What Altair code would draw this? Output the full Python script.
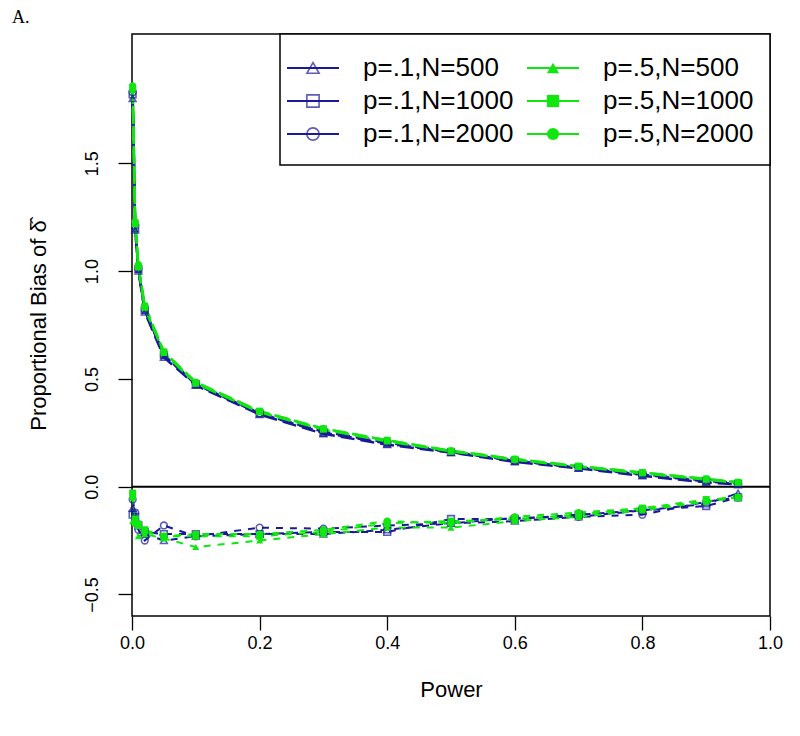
import altair as alt
import pandas as pd

# ---------------- data ----------------
power = [0.001, 0.005, 0.01, 0.02, 0.05, 0.1, 0.2, 0.3, 0.4, 0.5, 0.6, 0.7, 0.8, 0.9, 0.95]

series_labels = ["p=.1,N=500", "p=.1,N=1000", "p=.1,N=2000",
                 "p=.5,N=500", "p=.5,N=1000", "p=.5,N=2000"]

# upper set of curves (long-dashed)
upper_p1_n500 = [1.80, 1.19, 1.00, 0.81, 0.60, 0.470, 0.335, 0.245, 0.195, 0.158, 0.115, 0.085, 0.050, 0.020, 0.010]
upper_p1_n1000 = [1.82, 1.20, 1.01, 0.82, 0.61, 0.475, 0.340, 0.250, 0.200, 0.160, 0.120, 0.088, 0.055, 0.025, 0.012]
upper_p1_n2000 = [1.83, 1.21, 1.01, 0.82, 0.61, 0.475, 0.340, 0.255, 0.205, 0.162, 0.120, 0.090, 0.058, 0.028, 0.015]
upper_p5_n500 = [1.84, 1.22, 1.02, 0.83, 0.62, 0.480, 0.345, 0.265, 0.210, 0.165, 0.125, 0.093, 0.062, 0.033, 0.018]
upper_p5_n1000 = [1.85, 1.22, 1.02, 0.835, 0.625, 0.480, 0.350, 0.268, 0.215, 0.165, 0.127, 0.095, 0.065, 0.035, 0.020]
upper_p5_n2000 = [1.86, 1.23, 1.03, 0.84, 0.625, 0.485, 0.350, 0.270, 0.215, 0.167, 0.128, 0.095, 0.066, 0.036, 0.020]

# lower set of curves (short-dashed)
lower_p1_n500 = [-0.10, -0.15, -0.17, -0.22, -0.25, -0.23, -0.22, -0.22, -0.20, -0.17, -0.16, -0.14, -0.11, -0.08, -0.03]
lower_p1_n1000 = [-0.13, -0.14, -0.18, -0.21, -0.22, -0.22, -0.22, -0.21, -0.21, -0.15, -0.15, -0.13, -0.11, -0.09, -0.05]
lower_p1_n2000 = [-0.06, -0.12, -0.20, -0.25, -0.18, -0.23, -0.19, -0.195, -0.18, -0.17, -0.145, -0.14, -0.13, -0.07, -0.05]
lower_p5_n500 = [-0.16, -0.17, -0.23, -0.22, -0.24, -0.28, -0.25, -0.22, -0.19, -0.19, -0.16, -0.14, -0.11, -0.07, -0.04]
lower_p5_n1000 = [-0.03, -0.15, -0.18, -0.20, -0.23, -0.23, -0.23, -0.21, -0.17, -0.16, -0.15, -0.13, -0.10, -0.06, -0.05]
lower_p5_n2000 = [-0.05, -0.17, -0.17, -0.21, -0.23, -0.22, -0.22, -0.20, -0.16, -0.17, -0.14, -0.12, -0.10, -0.07, -0.05]

x_ticks = [0.0, 0.2, 0.4, 0.6, 0.8, 1.0]
y_ticks = [-0.5, 0.0, 0.5, 1.0, 1.5]
zero_line = [0.0]

# ---------------- build tables ----------------
upper = [upper_p1_n500, upper_p1_n1000, upper_p1_n2000, upper_p5_n500, upper_p5_n1000, upper_p5_n2000]
lower = [lower_p1_n500, lower_p1_n1000, lower_p1_n2000, lower_p5_n500, lower_p5_n1000, lower_p5_n2000]

rows = []
for order, (lab, uv, lv) in enumerate(zip(series_labels, upper, lower)):
    for p, u, l in zip(power, uv, lv):
        rows.append({"power": p, "bias": u, "series": lab, "set": "upper", "ord": order})
        rows.append({"power": p, "bias": l, "series": lab, "set": "lower", "ord": order})
df = pd.DataFrame(rows)

BLUE = "#1A1A99"
GREEN = "#11E611"
color_scale = alt.Scale(domain=series_labels, range=[BLUE] * 3 + [GREEN] * 3)
shape_scale = alt.Scale(domain=series_labels,
                        range=["triangle-up", "square", "circle"] * 2)

FONT = "Liberation Sans"

xs = alt.X("power:Q", scale=alt.Scale(domain=[0, 1], nice=False, zero=False),
           axis=alt.Axis(values=x_ticks, format=".1f", title="Power",
                         labelFlush=False, titlePadding=27, labelPadding=4))
ys = alt.Y("bias:Q", scale=alt.Scale(domain=[-0.6, 2.1], nice=False, zero=False),
           axis=alt.Axis(values=y_ticks, format=".1f", title="Proportional Bias of \u03b4\u0302",
                         labelFlush=False,
                         labelAngle=270, labelAlign="center", labelBaseline="bottom",
                         labelPadding=17, titlePadding=33))

base = alt.Chart(df)

upper_lines = base.transform_filter(alt.datum.set == "upper").mark_line(
    strokeWidth=2.5, strokeDash=[14, 6]).encode(
    x=xs, y=ys, color=alt.Color("series:N", scale=color_scale, legend=None),
    order="power:Q")

lower_lines = base.transform_filter(alt.datum.set == "lower").mark_line(
    strokeWidth=2, strokeDash=[7, 7]).encode(
    x=xs, y=ys, color=alt.Color("series:N", scale=color_scale, legend=None),
    order="power:Q")

hollow_pts = base.transform_filter(alt.datum.ord < 3).mark_point(
    filled=False, size=45, strokeWidth=1.6).encode(
    x=xs, y=ys,
    color=alt.Color("series:N", scale=color_scale, legend=None),
    shape=alt.Shape("series:N", scale=shape_scale, legend=None))

filled_pts = base.transform_filter(alt.datum.ord >= 3).mark_point(
    filled=True, size=50, opacity=1).encode(
    x=xs, y=ys,
    color=alt.Color("series:N", scale=color_scale, legend=None),
    shape=alt.Shape("series:N", scale=shape_scale, legend=None))

zero = alt.Chart(pd.DataFrame({"bias": zero_line})).mark_rule(
    color="black", strokeWidth=2).encode(y=alt.Y("bias:Q"))

main = alt.layer(zero, upper_lines, lower_lines, hollow_pts, filled_pts)

# ---------------- legend (drawn in pixel space) ----------------
leg = pd.DataFrame({"series": series_labels, "idx": list(range(6))})
leg_base = alt.Chart(leg).transform_calculate(
    col="floor(datum.idx / 3)", row="datum.idx % 3"
).transform_calculate(
    ly="34 + datum.row * 33",
    lx1="155 + datum.col * 240",
    lx2="207 + datum.col * 240",
    sx="181 + datum.col * 240",
    tx="231 + datum.col * 240",
)

box = alt.Chart(pd.DataFrame({"a": [0]})).mark_rect(
    fill="white", stroke="black", strokeWidth=1.5).encode(
    x=alt.value(148), x2=alt.value(638), y=alt.value(0), y2=alt.value(131))

leg_lines = leg_base.mark_rule(strokeWidth=2).encode(
    x=alt.X("lx1:Q", scale=None, axis=None), x2="lx2:Q",
    y=alt.Y("ly:Q", scale=None, axis=None),
    color=alt.Color("series:N", scale=color_scale, legend=None))

leg_hollow = leg_base.transform_filter(alt.datum.idx < 3).mark_point(
    filled=False, size=150, strokeWidth=1.6).encode(
    x=alt.X("sx:Q", scale=None, axis=None), y=alt.Y("ly:Q", scale=None, axis=None),
    color=alt.Color("series:N", scale=color_scale, legend=None),
    shape=alt.Shape("series:N", scale=shape_scale, legend=None))

leg_filled = leg_base.transform_filter(alt.datum.idx >= 3).mark_point(
    filled=True, size=150, opacity=1).encode(
    x=alt.X("sx:Q", scale=None, axis=None), y=alt.Y("ly:Q", scale=None, axis=None),
    color=alt.Color("series:N", scale=color_scale, legend=None),
    shape=alt.Shape("series:N", scale=shape_scale, legend=None))

leg_text = leg_base.mark_text(align="left", baseline="middle", font=FONT,
                              fontSize=26, color="black").encode(
    x=alt.X("tx:Q", scale=None, axis=None), y=alt.Y("ly:Q", scale=None, axis=None),
    text="series:N")

panel_label = alt.Chart(pd.DataFrame({"t": ["A."]})).mark_text(
    align="left", baseline="middle", font="Liberation Serif", fontSize=18,
    color="black").encode(x=alt.value(-120), y=alt.value(-16), text="t:N")

legend_layer = alt.layer(box, leg_lines, leg_hollow, leg_filled, leg_text, panel_label)

chart = alt.layer(main, legend_layer).resolve_scale(
    x="independent", y="independent"
).properties(
    width=638, height=582,
    autosize=alt.AutoSizeParams(type="none"),
    padding={"left": 124, "top": 26, "right": 22, "bottom": 110},
    background="white",
).configure_view(
    stroke="black", strokeWidth=1.5
).configure_axis(
    domain=False, grid=False, tickColor="black", tickSize=14, tickWidth=1.3,
    labelColor="black", labelFont=FONT, labelFontSize=18,
    titleColor="black", titleFont=FONT, titleFontSize=22, titleFontWeight="normal",
)

chart.save("out.html", embed_options={"renderer": "svg", "actions": False})
